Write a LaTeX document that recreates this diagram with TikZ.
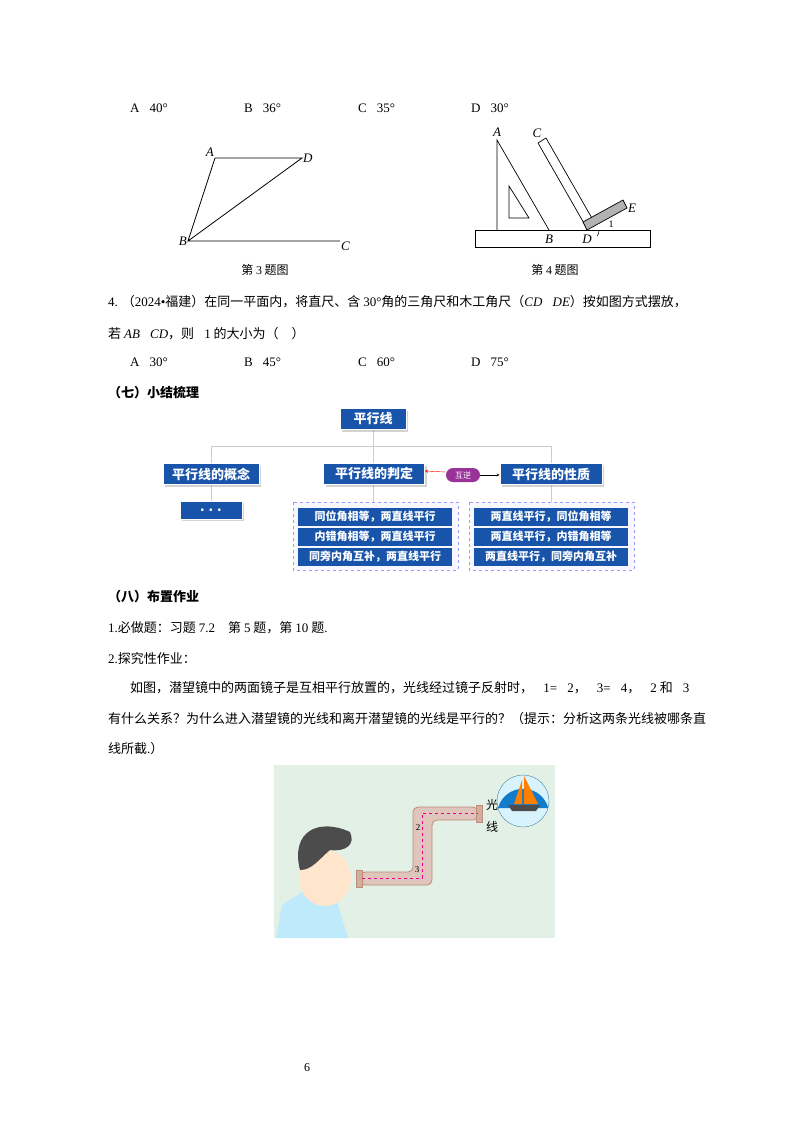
\documentclass[tikz,border=0pt]{standalone}
\usepackage{fontspec}
\setmainfont{Liberation Serif}
\newfontfamily\cjk{Noto Sans CJK SC}
\usetikzlibrary{shadows}
\definecolor{mapblue}{RGB}{24,84,170}
\definecolor{picgreen}{RGB}{226,240,230}
\definecolor{tubebrown}{RGB}{190,140,120}
\newcommand{\lat}[1]{{\rmfamily #1}}
\newcommand{\latit}[1]{{\rmfamily\itshape #1}}
\tikzset{
  txt/.style={anchor=west,inner sep=0pt,font=\cjk\fontsize{13}{15}\selectfont},
  figcap/.style={inner sep=0pt,font=\cjk\fontsize{12}{14}\selectfont},
  pt/.style={inner sep=1pt,font=\itshape\fontsize{13}{15}\selectfont},
  mapbox/.style={fill=mapblue,text=white,draw=white,line width=0.6pt,inner sep=2pt,
    font=\cjk\bfseries\fontsize{13}{15}\selectfont,drop shadow={opacity=0.35}},
  rowbox/.style={fill=mapblue,text=white,minimum width=154pt,minimum height=18pt,inner sep=0pt,
    font=\cjk\bfseries\fontsize{11}{13}\selectfont},
  group/.style={draw=blue!40,dashed,fill=blue!3}
}
\begin{document}
\begin{tikzpicture}[x=1pt,y=-1pt]
\useasboundingbox (0,0) rectangle (800,1132);
% options for question 3
\node[txt] (q3a) at (130,108) {\lat{A．40°}};
\node[txt] (q3b) at (244,108) {\lat{B．36°}};
\node[txt] (q3c) at (358,108) {\lat{C．35°}};
\node[txt] (q3d) at (471,108) {\lat{D．30°}};
% figure 3
\coordinate (A3) at (215,158);
\coordinate (D3) at (302,158);
\coordinate (B3) at (188,241);
\coordinate (C3) at (340,241);
\draw[line width=0.8pt] (A3) -- (D3) -- (B3) -- (A3) (B3) -- (C3);
\node[pt,anchor=south east] at (A3) {A};
\node[pt,anchor=west] at (D3) {D};
\node[pt,anchor=east] at (B3) {B};
\node[pt,anchor=north west] at (C3) {C};
\node[figcap] (cap3) at (265,270) {第 \lat{3} 题图};
% figure 4
\draw[line width=0.7pt] (475,230) rectangle (650,247);
\draw[line width=0.7pt] (497,230) -- (497,140) -- (549,230);
\draw[line width=0.7pt] (509,186) -- (509,218) -- (529,218) -- cycle;
\draw[line width=0.7pt] (538,143) -- (546,138) -- (593,220) -- (585,225) -- cycle;
\draw[line width=0.7pt,fill=gray!60] (583,222) -- (623,200) -- (627,208) -- (587,230) -- cycle;
\draw[line width=0.5pt] (599,230) arc (0:30:12);
\node[pt] at (497,132) {A};
\node[pt] at (537,133) {C};
\node[pt] at (549,239) {B};
\node[pt] at (587,239) {D};
\node[pt] at (632,208) {E};
\node[font=\fontsize{10}{12}\selectfont,inner sep=0pt] at (611,224) {1};
\node[figcap] (cap4) at (555,270) {第 \lat{4} 题图};
% question 4
\node[txt] (q4) at (108,302) {\lat{4.} （\lat{2024•}福建）在同一平面内，将直尺、含 \lat{30°}角的三角尺和木工角尺（\latit{CD}\lat{⊥}\latit{DE}）按如图方式摆放，};
\node[txt] (q4b) at (108,334) {若 \latit{AB}\lat{∥}\latit{CD}，则\lat{∠1} 的大小为（\quad ）};
\node[txt] (q4oa) at (130,362) {\lat{A．30°}};
\node[txt] (q4ob) at (244,362) {\lat{B．45°}};
\node[txt] (q4oc) at (358,362) {\lat{C．60°}};
\node[txt] (q4od) at (471,362) {\lat{D．75°}};
\node[txt,font=\cjk\bfseries\fontsize{13}{15}\selectfont] (sec7) at (108,393) {（七）小结梳理};
% concept map
\draw[group] (293,502) rectangle (458,570);
\draw[group] (469,502) rectangle (634,570);
\draw[gray!40] (373,430) -- (373,446) (211,446) -- (551,446)
  (211,446) -- (211,510) (373,446) -- (373,502) (551,446) -- (551,502);
\node[mapbox,minimum width=66pt,minimum height=21pt] (root) at (373,419) {平行线};
\node[mapbox,minimum width=96pt,minimum height=21pt] (concept) at (211,474) {平行线的概念};
\node[mapbox,minimum width=101pt,minimum height=21pt] (judge) at (374,474) {平行线的判定};
\node[mapbox,minimum width=102pt,minimum height=21pt] (prop) at (551,474) {平行线的性质};
\node[mapbox,minimum width=62pt,minimum height=18pt] (dots) at (211,510) {. . .};
\node[fill=violet!80,text=white,rounded corners=7pt,minimum width=34pt,minimum height=14pt,inner sep=0pt,
  font=\cjk\fontsize{8}{10}\selectfont] (inv) at (463,475) {互逆};
\draw[->,>=stealth] (inv.east) -- (prop.west|-inv.east);
\draw[->,>=stealth,red] ([yshift=3pt]inv.west) -- ([yshift=3pt]judge.east);
\node[rowbox] (j1) at (375,517) {同位角相等，两直线平行};
\node[rowbox] (j2) at (375,537) {内错角相等，两直线平行};
\node[rowbox] (j3) at (375,557) {同旁内角互补，两直线平行};
\node[rowbox] (p1) at (551,517) {两直线平行，同位角相等};
\node[rowbox] (p2) at (551,537) {两直线平行，内错角相等};
\node[rowbox] (p3) at (551,557) {两直线平行，同旁内角互补};
% homework
\node[txt,font=\cjk\bfseries\fontsize{13}{15}\selectfont] (sec8) at (108,597) {（八）布置作业};
\node[txt] (hw1) at (108,628) {\lat{1.}必做题：习题 \lat{7.2}\quad 第 \lat{5} 题，第 \lat{10} 题\lat{.}};
\node[txt] (hw2) at (108,658) {\lat{2.}探究性作业：};
\node[txt] (hw3) at (130,688) {如图，潜望镜中的两面镜子是互相平行放置的，光线经过镜子反射时，\lat{∠1=∠2}，\lat{∠3=∠4}，\lat{∠2} 和\lat{∠3}};
\node[txt] (hw4) at (108,719) {有什么关系？为什么进入潜望镜的光线和离开潜望镜的光线是平行的？（提示：分析这两条光线被哪条直};
\node[txt] (hw5) at (108,749) {线所截\lat{.}）};
% periscope picture
\fill[picgreen] (274,765) rectangle (555,938);
\draw[fill=tubebrown!50,draw=tubebrown,line width=0.8pt,rounded corners=5pt]
  (360,872) -- (413,872) -- (413,807) -- (478,807) -- (478,820) -- (432,820) -- (432,885) -- (360,885) -- cycle;
\draw[fill=tubebrown!70,draw=tubebrown] (356,870) rectangle (362,887);
\draw[fill=tubebrown!70,draw=tubebrown] (476,805) rectangle (482,822);
\draw[magenta,dashed] (362,878) -- (422,878) -- (422,813) -- (478,813);
\node[font=\fontsize{9}{10}\selectfont,inner sep=0pt] at (418,828) {2};
\node[font=\fontsize{9}{10}\selectfont,inner sep=0pt] at (417,870) {3};
\node[figcap,anchor=west] at (486,805) {光};
\node[figcap,anchor=west] at (486,827) {线};
\draw[fill=cyan!15,draw=cyan!60!black] (523,801) circle (26);
\fill[cyan!60!blue] (498,808) arc (195:345:26) -- cycle;
\fill[orange] (514,804) -- (522,780) -- (522,804) -- cycle (524,804) -- (524,776) -- (538,804) -- cycle;
\fill[black!70] (508,805) -- (540,805) -- (536,811) -- (512,811) -- cycle;
% boy
\fill[cyan!25] (276,938) -- (282,905) -- (305,890) -- (335,895) -- (348,938) -- cycle;
\fill[orange!15] (318,880) -- (330,900) -- (340,895) -- (350,870) -- cycle;
\fill[orange!20] (325,878) ellipse (26 and 28);
\fill[black!70] (300,870) .. controls (290,830) and (320,818) .. (350,832) .. controls (356,845) and (345,852) .. (330,850) .. controls (318,860) and (312,870) .. (300,870);
\node[font=\fontsize{12}{14}\selectfont] (pg) at (307,1068) {6};
\end{tikzpicture}
\end{document}
